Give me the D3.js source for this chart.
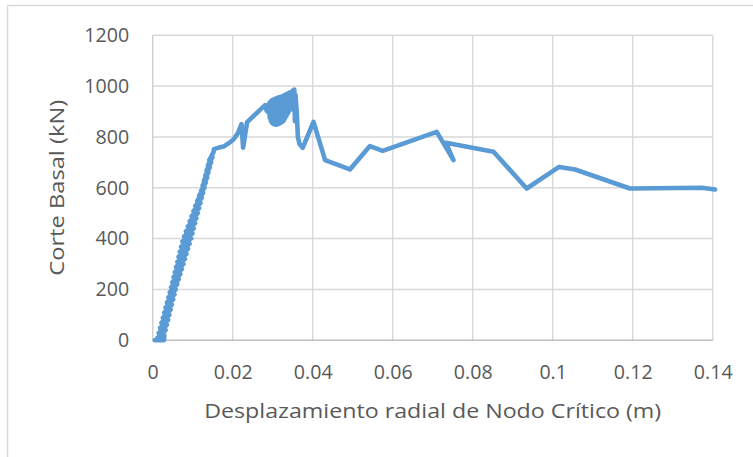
<!DOCTYPE html>
<html>
<head>
<meta charset="utf-8">
<script src="https://cdn.jsdelivr.net/npm/d3@7"></script>
<style>
  body { margin: 0; background: #fff; }
  svg { display: block; }
  text { font-family: "Open Sans", Lato, sans-serif; fill: #595959; }
</style>
</head>
<body>
<svg id="chart" width="753" height="457"></svg>
<script>
// Pushover curve: base shear vs. radial displacement of the critical node
const desplazamiento = [
  // elastic branch with load/unload cycles
  0.0005, 0.0028, 0.00291, 0.00114, 0.00323, 0.00148, 0.00354, 0.00183, 0.00386, 0.00217,
  0.00417, 0.00252, 0.00448, 0.00287, 0.0048, 0.00321, 0.00511, 0.00356, 0.00543, 0.0039,
  0.00574, 0.00425, 0.00613, 0.00459, 0.00651, 0.0049, 0.0069, 0.00521, 0.00729, 0.00552,
  0.00768, 0.00584, 0.00806, 0.00615, 0.00845, 0.00646, 0.00884, 0.00677, 0.00923, 0.00709,
  0.0096, 0.00741, 0.00993, 0.00783, 0.01026, 0.0083, 0.0106, 0.00878, 0.01093, 0.00924,
  0.01127, 0.00971, 0.0116, 0.01018, 0.01193, 0.01065, 0.01227, 0.01113, 0.0126, 0.0116,
  0.01293, 0.01208, 0.01326, 0.01247, 0.0136, 0.0128, 0.01393, 0.01313, 0.01426, 0.01346,
  0.01459, 0.01379, 0.01492, 0.01412, 0.0152, 0.0153,
  // yielding
  0.0165, 0.0177, 0.0190, 0.0202, 0.0213, 0.0222, 0.0226, 0.0236, 0.0281, 0.0285,
  // cycles near peak strength
  0.0288, 0.02895, 0.0291, 0.02925, 0.0294, 0.02955, 0.0297, 0.02985, 0.0300, 0.03015,
  0.0303, 0.03045, 0.0306, 0.03075, 0.0309, 0.03105, 0.0312, 0.03135, 0.0315, 0.03165,
  0.0318, 0.03195, 0.0321, 0.03225, 0.0324, 0.03255, 0.0327, 0.03285, 0.0330, 0.03315,
  0.0333, 0.03345, 0.0336, 0.03375, 0.0339, 0.03405, 0.0342, 0.03435, 0.0345, 0.03465,
  0.0348, 0.03495, 0.0351, 0.03525, 0.0354, 0.03555, 0.0357,
  // softening
  0.0360, 0.0363, 0.0367, 0.0375, 0.0402, 0.0431, 0.0493, 0.0543, 0.0575, 0.0710,
  0.0752, 0.0733, 0.0852, 0.0935, 0.1016, 0.1056, 0.1193, 0.1373, 0.1406
];
const corte = [
  0, 0, 20, 8, 40, 28, 60, 48, 80, 68,
  100, 88, 120, 108, 140, 128, 160, 148, 180, 168,
  200, 188, 220, 208, 240, 228, 260, 248, 280, 268,
  300, 288, 320, 308, 340, 328, 360, 348, 380, 368,
  400, 388, 420, 408, 440, 428, 460, 448, 480, 468,
  500, 488, 520, 508, 540, 528, 560, 548, 580, 568,
  600, 588, 620, 608, 640, 628, 660, 648, 680, 668,
  700, 688, 720, 708, 740, 752,
  758, 762, 775, 790, 815, 850, 758, 858, 925, 903,
  925, 895, 932, 876, 938, 862, 942, 855, 946, 851,
  948, 849, 950, 848, 952, 848, 954, 850, 956, 852,
  957, 855, 958, 858, 960, 861, 962, 866, 965, 876,
  967, 884, 970, 892, 972, 900, 975, 909, 977, 918,
  979, 918, 984, 905, 986, 862, 965,
  900, 800, 772, 757, 859, 709, 672, 764, 745, 820,
  709, 777, 742, 597, 682, 672, 597, 600, 593
];

const xTicks = [0, 0.02, 0.04, 0.06, 0.08, 0.1, 0.12, 0.14];
const xTickLabels = ["0", "0.02", "0.04", "0.06", "0.08", "0.1", "0.12", "0.14"];
const yTicks = [0, 200, 400, 600, 800, 1000, 1200];
const xTitle = "Desplazamiento radial de Nodo Crítico (m)";
const yTitle = "Corte Basal (kN)";

const svg = d3.select("#chart");
const x = d3.scaleLinear().domain([0, 0.14]).range([152.7, 712.7]);
const y = d3.scaleLinear().domain([0, 1200]).range([340.2, 35.3]);

// outer chart-area border
svg.append("line").attr("x1", 7.5).attr("x2", 753).attr("y1", 5.5).attr("y2", 5.5)
  .attr("stroke", "#d9d9d9").attr("stroke-width", 1.5);
svg.append("line").attr("x1", 7.5).attr("x2", 7.5).attr("y1", 5.5).attr("y2", 457)
  .attr("stroke", "#d9d9d9").attr("stroke-width", 1.5);

// gridlines
const grid = svg.append("g");
grid.selectAll("line.h").data(yTicks.filter(d => d > 0)).join("line")
  .attr("x1", x(0)).attr("x2", x(0.14))
  .attr("y1", d => y(d)).attr("y2", d => y(d))
  .attr("stroke", "#d9d9d9").attr("stroke-width", 1.5);
grid.selectAll("line.v").data(xTicks).join("line")
  .attr("x1", d => x(d)).attr("x2", d => x(d))
  .attr("y1", y(0)).attr("y2", y(1200))
  .attr("stroke", d => d === 0 ? "#cfcfcf" : "#d9d9d9").attr("stroke-width", 1.5);

// horizontal axis line
svg.append("line").attr("x1", x(0)).attr("x2", x(0.14))
  .attr("y1", y(0)).attr("y2", y(0))
  .attr("stroke", "#bfbfbf").attr("stroke-width", 1.5);

// tick labels through d3 axes (tick marks hidden)
const xAxis = d3.axisBottom(x).tickValues(xTicks)
  .tickFormat((d, i) => xTickLabels[i]).tickSize(0).tickPadding(0);
const gx = svg.append("g").attr("transform", `translate(0,${y(0)})`).call(xAxis);
gx.select(".domain").remove();
gx.selectAll("text").attr("font-size", 19.6).attr("dy", null)
  .attr("y", 38.8).style("font-family", "'Open Sans', Lato, sans-serif").attr("fill", "#595959");

const yAxis = d3.axisLeft(y).tickValues(yTicks).tickFormat(d3.format("d"))
  .tickSize(0).tickPadding(0);
const gy = svg.append("g").attr("transform", `translate(${x(0)},0)`).call(yAxis);
gy.select(".domain").remove();
gy.selectAll("text").attr("font-size", 19.6).attr("x", -23.5)
  .style("font-family", "'Open Sans', Lato, sans-serif").attr("fill", "#595959");

// axis titles
svg.append("text").attr("x", (x(0) + x(0.14)) / 2).attr("y", 418.3)
  .attr("text-anchor", "middle").attr("font-size", 20)
  .attr("textLength", 457).attr("lengthAdjust", "spacingAndGlyphs")
  .text(xTitle);
svg.append("text")
  .attr("transform", `translate(64,${(y(0) + y(1200)) / 2}) rotate(-90)`)
  .attr("text-anchor", "middle").attr("font-size", 20)
  .attr("textLength", 176).attr("lengthAdjust", "spacingAndGlyphs")
  .text(yTitle);

// curve
const pts = desplazamiento.map((d, i) => [d, corte[i]]);
const line = d3.line().x(d => x(d[0])).y(d => y(d[1]));
svg.append("path").datum(pts).attr("d", line)
  .attr("fill", "none").attr("stroke", "#5b9bd5").attr("stroke-width", 4.6)
  .attr("stroke-linejoin", "round").attr("stroke-linecap", "round");
</script>
</body>
</html>
